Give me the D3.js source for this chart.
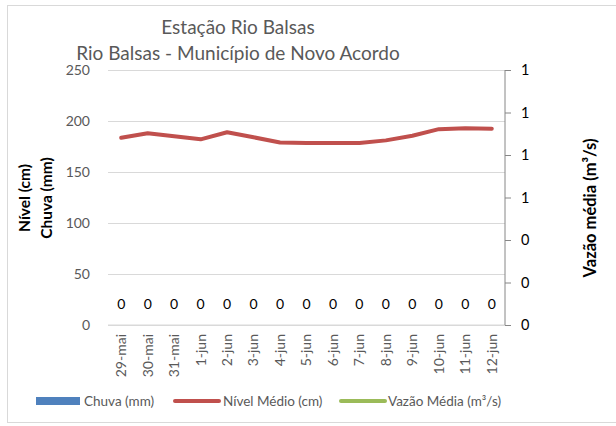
<!DOCTYPE html>
<html>

<head>
    <meta charset="UTF-8">
    <title>Estação Rio Balsas</title>
    <style>
        body {
            margin: 0;
            background: #fff;
        }

        svg text {
            font-family: Lato, 'Open Sans', sans-serif;
        }

        .axis path {
            display: none;
        }

        .axis line {
            stroke: #d9d9d9;
        }

        .axis text {
            fill: #595959;
            font-size: 14px;
        }

        .y2-axis text {
            fill: #000;
            font-size: 14.5px;
        }

        .y2-axis line {
            stroke: #868686;
        }

        .nivel {
            fill: none;
            stroke: #c0504d;
            stroke-width: 4px;
            stroke-linejoin: round;
            stroke-linecap: round;
        }
    </style>
</head>

<body>
    <div class="chart"></div>

    <script src="https://cdnjs.cloudflare.com/ajax/libs/d3/7.8.5/d3.min.js"></script>

    <script>
        // dias
        const dias = ['29-mai', '30-mai', '31-mai', '1-jun', '2-jun', '3-jun', '4-jun', '5-jun',
            '6-jun', '7-jun', '8-jun', '9-jun', '10-jun', '11-jun', '12-jun'
        ];

        // chuva (mm)
        const chuva = [0, 0, 0, 0, 0, 0, 0, 0, 0, 0, 0, 0, 0, 0, 0];

        // nível médio (cm)
        const nivel = [183.5, 188, 185, 182, 189, 184, 179, 178.5, 178.5, 178.5, 181, 185.5, 192, 193, 192.5];

        // vazão média (m³/s) - sem linha visível no gráfico original
        const vazao = [0, 0, 0, 0, 0, 0, 0, 0, 0, 0, 0, 0, 0, 0, 0];

        const leftTicks = [0, 50, 100, 150, 200, 250];
        const rightTicks = [0, 0.2, 0.4, 0.6, 0.8, 1, 1.2];

        const W = 616;
        const H = 426;
        const margin = {
            top: 70,
            right: 111,
            bottom: 101,
            left: 108
        };
        const width = W - margin.left - margin.right;
        const height = H - margin.top - margin.bottom;

        const svg = d3.select('.chart')
            .append('svg')
            .attr('width', W)
            .attr('height', H);

        // moldura
        svg.append('rect')
            .attr('x', 7.5)
            .attr('y', 5.5)
            .attr('width', 630)
            .attr('height', 417)
            .attr('fill', '#fff')
            .attr('stroke', '#d9d9d9');

        const g = svg.append('g')
            .attr('transform', `translate(${ margin.left },${ margin.top })`);

        const x = d3.scaleBand()
            .domain(dias)
            .range([0, width]);

        const y = d3.scaleLinear()
            .domain([0, 250])
            .range([height, 0]);

        const y2 = d3.scaleLinear()
            .domain([0, 1.2])
            .range([height, 0]);

        // grade + eixo esquerdo
        g.append('g')
            .attr('class', 'axis y-axis')
            .call(d3.axisLeft(y)
                .tickValues(leftTicks)
                .tickSize(-width)
                .tickPadding(18))
            .selectAll('line')
            .attr('stroke', d => d === 0 ? 'none' : '#d9d9d9');

        // linha de base
        g.append('line')
            .attr('x1', 0)
            .attr('x2', width)
            .attr('y1', y(0))
            .attr('y2', y(0))
            .attr('stroke', '#d9d9d9');

        // eixo x
        g.append('g')
            .attr('class', 'axis x-axis')
            .attr('transform', `translate(0,${ height })`)
            .call(d3.axisBottom(x).tickSize(0).tickPadding(0))
            .selectAll('text')
            .attr('transform', 'rotate(-90)')
            .attr('text-anchor', 'end')
            .attr('dx', '-9px')
            .attr('dy', '0.35em')
            .attr('x', 0)
            .attr('y', 0);

        // eixo direito
        const y2Axis = g.append('g')
            .attr('class', 'axis y2-axis')
            .attr('transform', `translate(${ width },0)`)
            .call(d3.axisRight(y2)
                .tickValues(rightTicks)
                .tickSize(6)
                .tickPadding(10)
                .tickFormat(d3.format('.0f')));

        y2Axis.append('line')
            .attr('x1', 0)
            .attr('x2', 0)
            .attr('y1', 0)
            .attr('y2', height)
            .attr('stroke', '#868686');

        // barras chuva
        g.append('g')
            .selectAll('rect')
            .data(chuva)
            .join('rect')
            .attr('x', (d, i) => x(dias[i]) + x.bandwidth() * 0.2)
            .attr('width', x.bandwidth() * 0.6)
            .attr('y', d => y(d))
            .attr('height', d => y(0) - y(d))
            .attr('fill', '#4f81bd');

        // linha nível
        g.append('path')
            .datum(nivel)
            .attr('class', 'nivel')
            .attr('d', d3.line()
                .x((d, i) => x(dias[i]) + x.bandwidth() / 2)
                .y(d => y(d)));

        // rótulos de dados (vazão)
        g.append('g')
            .selectAll('text')
            .data(vazao)
            .join('text')
            .attr('x', (d, i) => x(dias[i]) + x.bandwidth() / 2)
            .attr('y', d => y2(d) - 16)
            .attr('text-anchor', 'middle')
            .attr('font-size', 14)
            .attr('fill', '#000')
            .text(d => d);

        // títulos
        svg.append('text')
            .attr('x', 238)
            .attr('y', 34)
            .attr('text-anchor', 'middle')
            .attr('font-size', 19)
            .attr('fill', '#595959')
            .text('Estação Rio Balsas');

        svg.append('text')
            .attr('x', 238)
            .attr('y', 60)
            .attr('text-anchor', 'middle')
            .attr('font-size', 19)
            .attr('fill', '#595959')
            .text('Rio Balsas - Município de Novo Acordo');

        svg.append('text')
            .attr('transform', 'translate(30,198) rotate(-90)')
            .attr('text-anchor', 'middle')
            .attr('font-size', 15.5)
            .attr('font-weight', 'bold')
            .text('Nível (cm)');

        svg.append('text')
            .attr('transform', 'translate(52,198) rotate(-90)')
            .attr('text-anchor', 'middle')
            .attr('font-size', 15.5)
            .attr('font-weight', 'bold')
            .text('Chuva (mm)');

        svg.append('text')
            .attr('transform', 'translate(596,208) rotate(-90)')
            .attr('text-anchor', 'middle')
            .attr('font-size', 16.5)
            .attr('font-weight', 'bold')
            .text('Vazão média (m³/s)');

        // legenda
        const legend = svg.append('g')
            .attr('class', 'legend');

        legend.append('rect')
            .attr('x', 36)
            .attr('y', 397)
            .attr('width', 44)
            .attr('height', 8)
            .attr('fill', '#4f81bd');

        legend.append('line')
            .attr('x1', 175)
            .attr('x2', 219)
            .attr('y1', 401)
            .attr('y2', 401)
            .attr('stroke', '#c0504d')
            .attr('stroke-width', 4)
            .attr('stroke-linecap', 'round');

        legend.append('line')
            .attr('x1', 341)
            .attr('x2', 385)
            .attr('y1', 401)
            .attr('y2', 401)
            .attr('stroke', '#9bbb59')
            .attr('stroke-width', 4)
            .attr('stroke-linecap', 'round');

        const legendText = [
            ['Chuva (mm)', 84],
            ['Nível Médio (cm)', 223],
            ['Vazão Média (m³/s)', 388]
        ];

        legend.selectAll('text')
            .data(legendText)
            .join('text')
            .attr('x', d => d[1])
            .attr('y', 406)
            .attr('font-size', 13.5)
            .attr('fill', '#595959')
            .text(d => d[0]);
    </script>
</body>

</html>
